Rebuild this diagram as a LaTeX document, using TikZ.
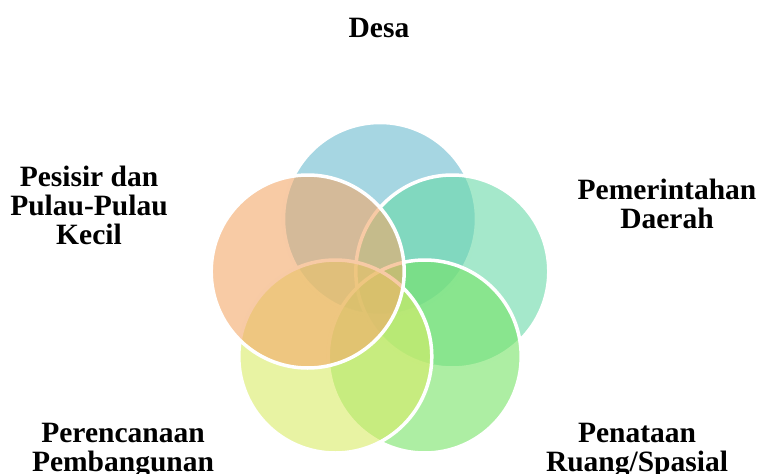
\documentclass[tikz,border=0pt]{standalone}
\usepackage{fontspec}
\setmainfont{Liberation Serif}
\definecolor{cblue}{RGB}{107,187,207}
\definecolor{cteal}{RGB}{105,217,168}
\definecolor{cgreen}{RGB}{118,227,102}
\definecolor{cyellow}{RGB}{217,235,102}
\definecolor{corange}{RGB}{243,168,105}
\tikzset{
  petal/.style={circle, minimum size=193pt, inner sep=0pt, draw=white, line width=3.5pt, fill opacity=0.6, draw opacity=1},
  lbl/.style={font=\fontsize{29.5}{29}\selectfont\bfseries, align=center, inner sep=0pt}
}
\begin{document}
\begin{tikzpicture}[x=1pt,y=-1pt]
\useasboundingbox (0,0) rectangle (758,474);
\node[petal, fill=cblue]   (desa) at (380,219) {};
\node[petal, fill=cteal]   (pem)  at (452.3,271.5) {};
\node[petal, fill=cgreen]  (pen)  at (424.7,356.5) {};
\node[petal, fill=cyellow] (per)  at (335.3,356.5) {};
\node[petal, fill=corange] (pes)  at (307.7,271.5) {};
\node[lbl, anchor=base] (tdesa) at (379,37) {Desa};
\node[lbl, anchor=base] (tpes) at (89,244) {Pesisir dan\\Pulau-Pulau\\Kecil};
\node[lbl, anchor=base] (tpem) at (667,228) {Pemerintahan\\Daerah};
\node[lbl, anchor=base] (tper) at (123,471) {Perencanaan\\Pembangunan};
\node[lbl, anchor=base] (tpen) at (637,471) {Penataan\\Ruang/Spasial};
\end{tikzpicture}
\end{document}
